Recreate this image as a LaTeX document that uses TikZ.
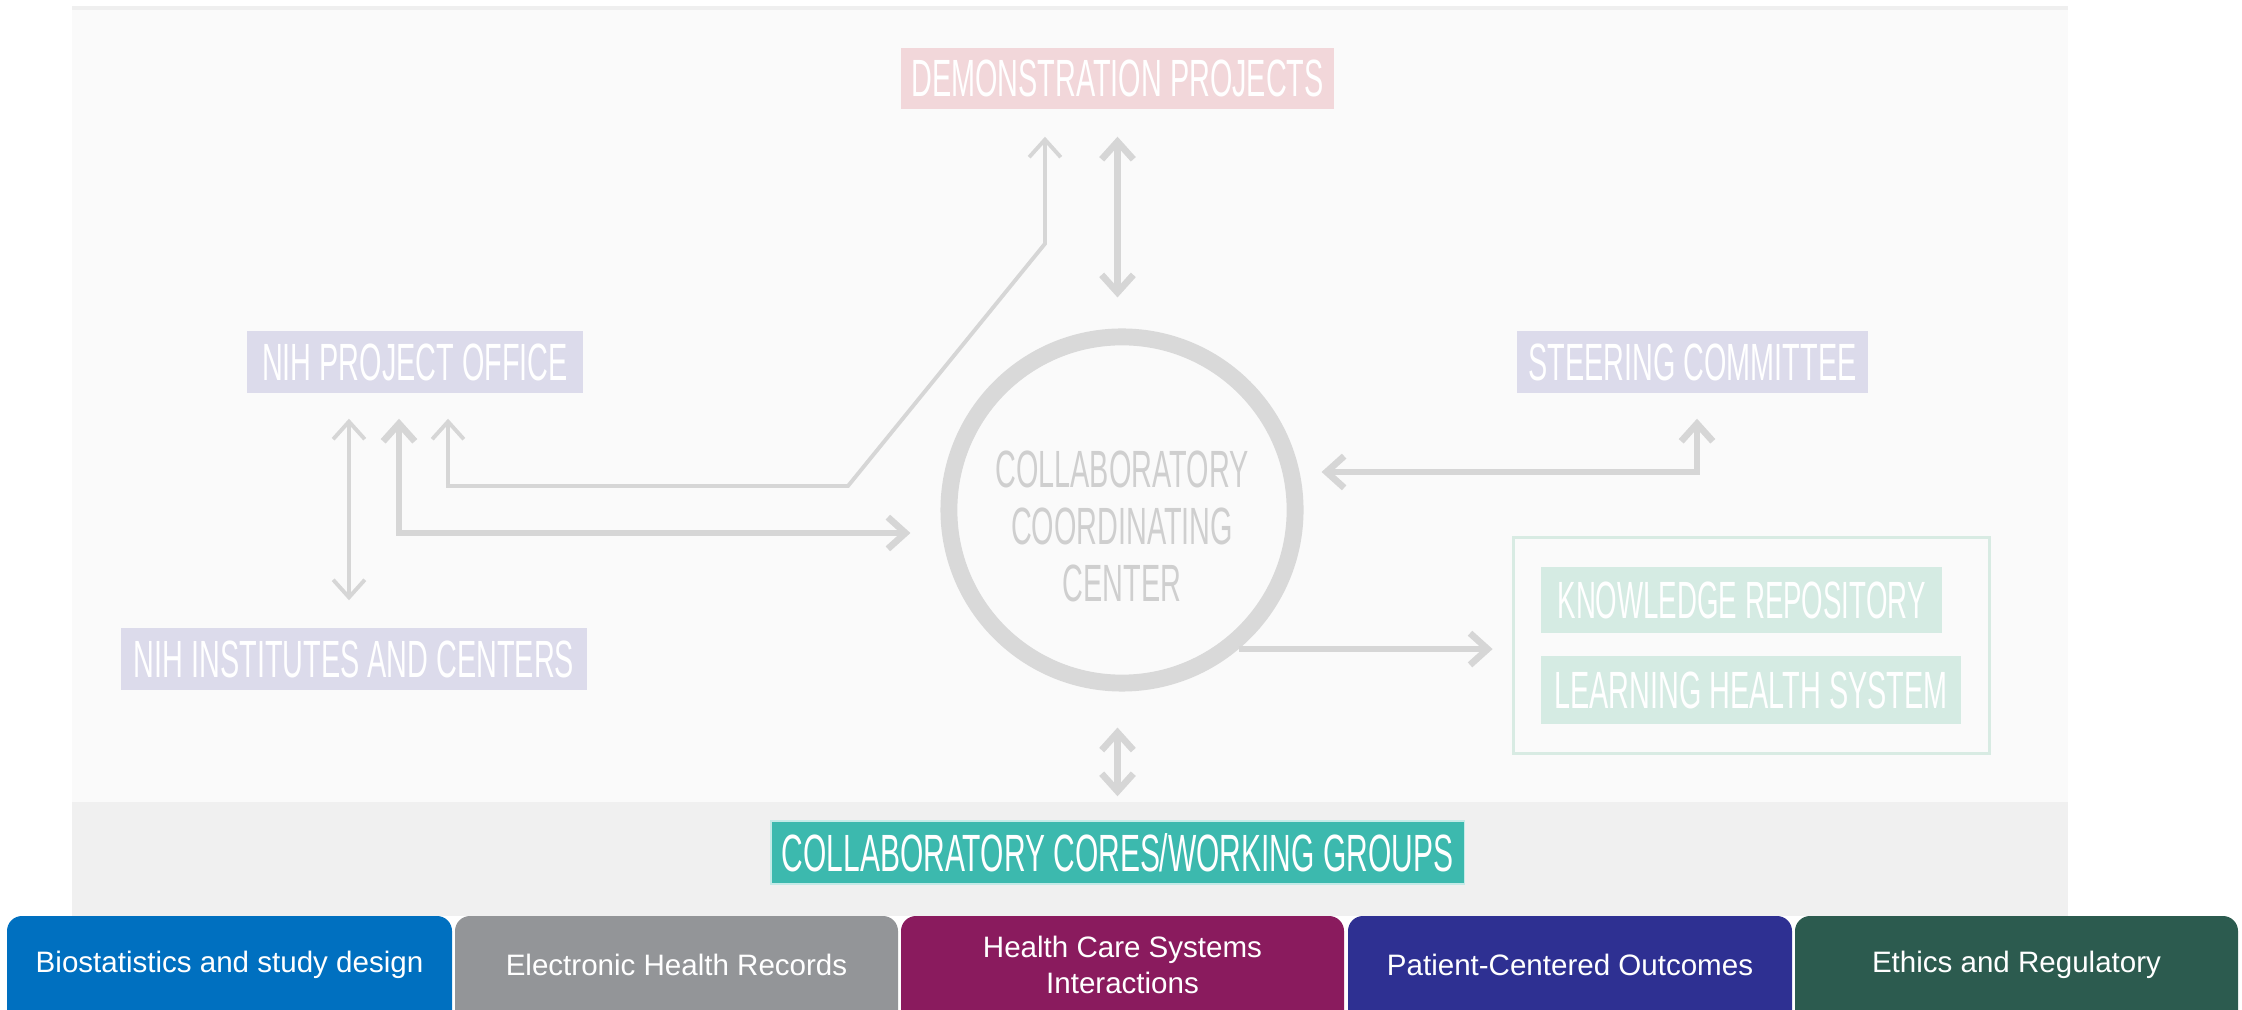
\documentclass[tikz,border=0pt]{standalone}
\usepackage{fontspec}
\usepackage{graphicx}
\setmainfont{Liberation Sans}
\newfontfamily\agency[FakeStretch=0.55]{Liberation Sans}
\usepackage{tikz}
\usetikzlibrary{arrows.meta}

\definecolor{stripgrey}{HTML}{EFEFEF}
\definecolor{panelgrey}{HTML}{FAFAFA}
\definecolor{bandgrey}{HTML}{F0F0F0}
\definecolor{demopink}{HTML}{F2D7DA}
\definecolor{nihlav}{HTML}{DCDBEB}
\definecolor{mint}{HTML}{D5EBE3}
\definecolor{mintline}{HTML}{D8EBE3}
\definecolor{coreteal}{HTML}{3CB9AE}
\definecolor{ringgrey}{HTML}{D9D9D9}
\definecolor{ringtext}{HTML}{CFCFCF}
\definecolor{linkgrey}{HTML}{D6D6D6}
\definecolor{biostatblue}{HTML}{0070C0}
\definecolor{ehrgrey}{HTML}{939598}
\definecolor{hcsmagenta}{HTML}{8A1B5E}
\definecolor{pcoblue}{HTML}{2E3092}
\definecolor{ethgreen}{HTML}{2C5B4F}

\begin{document}
\begin{tikzpicture}[x=0.01cm, y=-0.01cm,
    >={Straight Barb[length=5pt,width=9pt]},
    tag/.style={text=white, font=\agency\fontsize{14.9}{16.2}\selectfont, inner sep=0pt, align=center},
    tab/.style={text=white, font=\fontsize{8.4}{10}\selectfont, align=center},
    thinlink/.style={draw=linkgrey, line width=1.1pt},
    thicklink/.style={draw=linkgrey, line width=1.9pt}]
            \useasboundingbox (0,0) rectangle (2242,1010);
            \clip (0,0) rectangle (2242,1010);
            \fill[stripgrey] (72,6) rectangle (2068,10);
            \fill[panelgrey] (72,10) rectangle (2068,802);
            \fill[bandgrey] (72,802) rectangle (2068,916);
            \node[tag, fill=demopink, minimum width=4.33cm, minimum height=0.61cm] (demo) at (1117.5,78.5) {DEMONSTRATION PROJECTS};
            \node[tag, fill=nihlav, minimum width=3.36cm, minimum height=0.62cm] (npo) at (415,362) {NIH PROJECT OFFICE};
            \node[tag, fill=nihlav, minimum width=4.66cm, minimum height=0.62cm] (nic) at (354,659) {NIH INSTITUTES AND CENTERS};
            \node[tag, fill=nihlav, minimum width=3.51cm, minimum height=0.62cm] (sc) at (1692.5,362) {STEERING COMMITTEE};
            \node[draw=mintline, line width=1pt, minimum width=4.76cm, minimum height=2.16cm] (kbox) at (1751.5,645.5) {};
            \node[tag, fill=mint, minimum width=4.01cm, minimum height=0.66cm] (kr) at (1741.5,600) {\scalebox{0.96}[1]{KNOWLEDGE REPOSITORY}};
            \node[tag, fill=mint, minimum width=4.20cm, minimum height=0.68cm] (lhs) at (1751,690) {LEARNING HEALTH SYSTEM};
            \node[tag, fill=coreteal, draw=white!70!coreteal, minimum width=6.93cm, minimum height=0.63cm] (cores) at (1117.5,852.5) {\scalebox{1.04}[1]{COLLABORATORY CORES/WORKING GROUPS}};
            \node[circle, draw=ringgrey, line width=4.8pt, minimum size=3.46cm] (ccc) at (1122,510) {};
            \node[tag, text=ringtext] (ccctext) at (1122,526) {COLLABORATORY\\COORDINATING\\CENTER};
            % links
            \draw[thicklink, ->, shorten >=0.19cm] (ccc.-50) -- (ccc.-50 -| kbox.west);
            \draw[thicklink, <->, shorten <=0.27cm, shorten >=0.31cm] (demo.south) -- (demo.south |- ccc.north);
            \draw[thinlink, <->] ([xshift=-0.725cm, yshift=-0.27cm]demo.south) -- ++(0,107) -- (848,486) -- (448,486) -- ([xshift=0.33cm, yshift=-0.25cm]npo.south);
            \draw[thicklink, <->] ([xshift=-0.16cm, yshift=-0.25cm]npo.south) |- ([xshift=-0.30cm, yshift=-0.23cm]ccc.west);
            \draw[thinlink, <->] ([xshift=-0.66cm, yshift=-0.25cm]npo.south) -- ([xshift=-0.05cm, yshift=0.27cm]nic.north);
            \draw[thicklink, <->] ([xshift=0.18cm, yshift=0.38cm]ccc.east) -| ([xshift=0.045cm, yshift=-0.25cm]sc.south);
            \draw[thicklink, <->] ([yshift=-0.36cm]cores.north |- ccc.south) -- ([yshift=0.24cm]cores.north);
            % working groups
            \fill[biostatblue, rounded corners=0.15cm] (7,916) rectangle (452,1040);
            \node[tab] (bio) at (229.5,965) {Biostatistics and study design};
            \fill[ehrgrey, rounded corners=0.15cm] (455,916) rectangle (898,1040);
            \node[tab] (ehr) at (676.5,965) {Electronic Health Records};
            \fill[hcsmagenta, rounded corners=0.15cm] (901,916) rectangle (1344,1040);
            \node[tab] (hcs) at (1122.5,965) {Health Care Systems\\Interactions};
            \fill[pcoblue, rounded corners=0.15cm] (1348,916) rectangle (1792,1040);
            \node[tab] (pco) at (1570,965) {Patient-Centered Outcomes};
            \fill[ethgreen, rounded corners=0.15cm] (1795,916) rectangle (2238,1040);
            \node[tab] (eth) at (2016.5,965) {Ethics and Regulatory};
          \end{tikzpicture}
\end{document}
